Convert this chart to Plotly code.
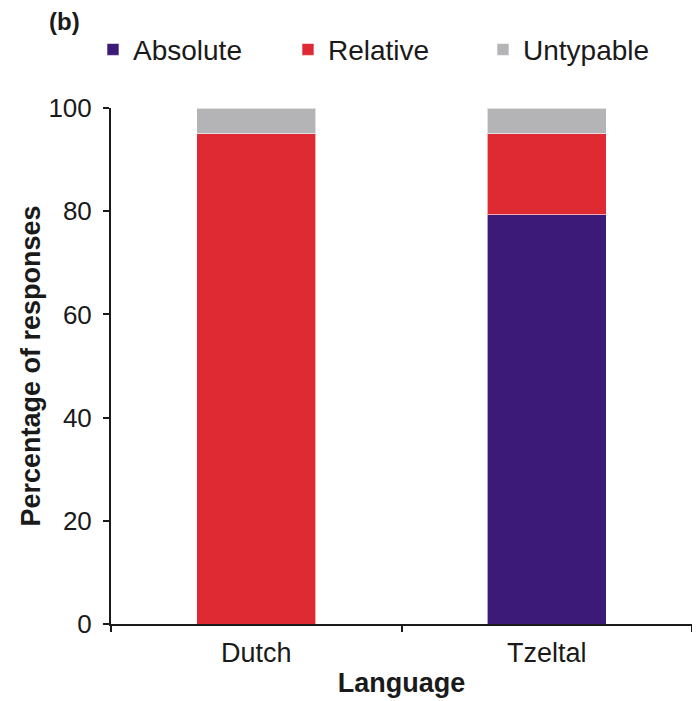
import plotly.graph_objects as go

languages = ["Dutch", "Tzeltal"]
absolute = [0, 79.3]
relative = [95, 15.7]
untypable = [5, 5]
series_names = ["Absolute", "Relative", "Untypable"]
bar_colors = ["#3C1A78", "#E02A33", "#B4B4B6"]
y_ticks = [0, 20, 40, 60, 80, 100]

fig = go.Figure()
for name, vals, col in zip(series_names, [absolute, relative, untypable], bar_colors):
    fig.add_trace(go.Bar(
        x=languages, y=vals, name=name, width=0.41,
        marker=dict(color=col, line=dict(color="rgba(255,255,255,0.6)", width=1)),
    ))

font_family = "Liberation Sans, Arial, sans-serif"
fig.update_layout(
    barmode="stack",
    width=692, height=693,
    paper_bgcolor="white", plot_bgcolor="white",
    margin=dict(l=103, r=8, t=100, b=77),
    font=dict(family=font_family, color="#1a1a1a", size=20),
    showlegend=True,
    legend=dict(
        orientation="h", x=-0.031, y=1.113, xanchor="left", yanchor="middle",
        font=dict(size=28, family=font_family, color="#1a1a1a"),
        entrywidth=150, entrywidthmode="pixels",
        traceorder="normal",
        itemclick=False,
    ),
    xaxis=dict(
        showline=True, linecolor="#1a1a1a", linewidth=2,
        ticks="outside", ticklen=6, tickwidth=2, tickcolor="#1a1a1a",
        tickson="boundaries", automargin=False,
        ticklabelstandoff=4,
        tickfont=dict(size=27, family=font_family),
        title=dict(text="<b>Language</b>", font=dict(size=27, family=font_family), standoff=6),
        range=[-0.5, 1.5],
    ),
    yaxis=dict(
        range=[0, 100], tickvals=y_ticks, automargin=False,
        showline=True, linecolor="#1a1a1a", linewidth=2,
        ticks="outside", ticklen=6, tickwidth=2, tickcolor="#1a1a1a",
        ticklabelstandoff=6,
        showgrid=False, zeroline=False,
        tickfont=dict(size=26, family=font_family),
        title=dict(text="<b>Percentage of responses</b>", font=dict(size=27, family=font_family), standoff=0),
    ),
    annotations=[dict(
        text="<b>(b)</b>", xref="paper", yref="paper", x=-0.11, y=1.168,
        xanchor="left", yanchor="middle", showarrow=False,
        font=dict(size=24, family=font_family, color="#1a1a1a"),
    )],
)

fig.write_html("out.html")
